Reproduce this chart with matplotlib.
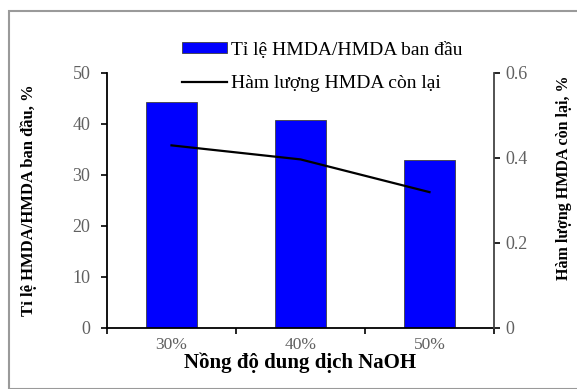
import numpy as np
import matplotlib.pyplot as plt
import matplotlib.patches as mpatches

plt.rcParams['font.family'] = ['Liberation Serif', 'DejaVu Serif']

categories = ['30%', '40%', '50%']
ratio = [44.2, 40.7, 32.9]          # Ti le HMDA/HMDA ban dau, %
remaining = [0.429, 0.396, 0.319]   # Ham luong HMDA con lai, %

fig = plt.figure(figsize=(5.77, 3.89), dpi=100)
fig.patches.append(mpatches.Rectangle((9/577, 0.0), 1.2, 1 - 11/389, transform=fig.transFigure,
                                      fill=False, ec='#9a9a9a', lw=1.5))

ax = fig.add_axes([107/577, 61.3/389, 387/577, 255/389])
x = np.arange(len(categories))
bars = ax.bar(x, ratio, width=0.4, color='#0000ff', edgecolor='#404040', lw=0.6,
              label='Tỉ lệ HMDA/HMDA ban đầu')
ax.set_xlim(-0.5, 2.5)
ax.set_ylim(0, 50)
ax.set_yticks([0, 10, 20, 30, 40, 50])
ax.set_xticks([-0.5, 0.5, 1.5, 2.5])
ax.set_xticklabels([])
ax.set_xticks(x, minor=True)
ax.set_xticklabels(categories, minor=True)
ax.tick_params(axis='x', which='minor', length=0, pad=7, labelsize=12.5, labelcolor='#606060')
ax.tick_params(axis='x', which='major', direction='out', length=4, width=1.2)
ax.tick_params(axis='y', direction='out', length=4, width=1.2, labelsize=13, labelcolor='#606060', pad=8)
ax.spines['top'].set_visible(False)
ax.spines['right'].set_visible(False)
for s in ['left', 'bottom']:
    ax.spines[s].set_linewidth(1.3)
ax.set_ylabel('Tỉ lệ HMDA/HMDA ban đầu, %', fontsize=12, fontweight='bold')
ax.yaxis.set_label_coords(-0.181, 0.5)
ax.set_xlabel('Nồng độ dung dịch NaOH', fontsize=15, fontweight='bold', labelpad=-1)

ax2 = ax.twinx()
line, = ax2.plot(x, remaining, color='black', lw=1.6, label='Hàm lượng HMDA còn lại')
ax2.set_ylim(0, 0.6)
ax2.set_yticks([0, 0.2, 0.4, 0.6])
ax2.set_yticklabels(['0', '0.2', '0.4', '0.6'])
ax2.tick_params(axis='y', direction='out', length=4, width=1.2, labelsize=13, labelcolor='#606060', pad=4)
for s in ['top', 'left', 'bottom']:
    ax2.spines[s].set_visible(False)
ax2.spines['right'].set_linewidth(1.3)
ax2.spines['right'].set_color('#444444')
ax2.set_ylabel('Hàm lượng HMDA còn lại, %', fontsize=11.5, fontweight='bold', rotation=90)
ax2.yaxis.set_label_coords(1.16, 0.59)

fig.legend([bars, line], ['Tỉ lệ HMDA/HMDA ban đầu', 'Hàm lượng HMDA còn lại'],
           loc='upper left', bbox_to_anchor=(165/577, 1 - 24/389), frameon=False,
           fontsize=14, handlelength=2.3, handleheight=0.5, handletextpad=0.2, labelspacing=0.85)

plt.savefig('out.png', dpi=100)
